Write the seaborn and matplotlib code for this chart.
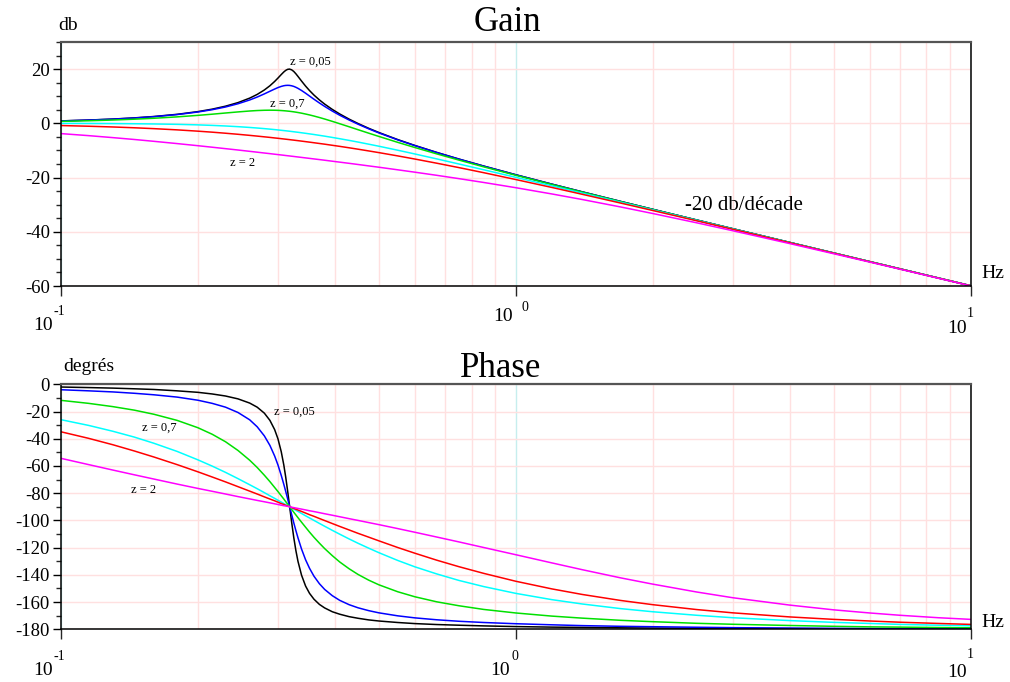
import numpy as np
import pandas as pd
import matplotlib
matplotlib.use("Agg")
import matplotlib.pyplot as plt
import seaborn as sns
from matplotlib.ticker import MultipleLocator, LogLocator, NullFormatter

# ---------------- data ----------------
freq_hz = [0.1, 0.115, 0.13, 0.145, 0.16, 0.18, 0.2, 0.215, 0.23, 0.245, 0.26,
           0.27, 0.28, 0.288, 0.295, 0.3, 0.305, 0.309, 0.312, 0.315, 0.318, 0.3215,
           0.325, 0.3285, 0.332, 0.338, 0.345, 0.352, 0.36, 0.37, 0.38, 0.395, 0.41,
           0.43, 0.45, 0.475, 0.5, 0.55, 0.6, 0.67, 0.75, 0.85, 1.0, 1.2,
           1.4, 1.7, 2.0, 2.5, 3.0, 4.0, 5.0, 6.0, 7.0, 8.5, 10.0]

z_labels = ["0,05", "0,1", "0,3", "0,7", "1", "2"]
z_colors = ["#000000", "#0000ff", "#00e000", "#00ffff", "#ff0000", "#ff00ff"]

gain_z005 = [0.90, 1.21, 1.57, 2.01, 2.51, 3.32, 4.32, 5.23, 6.32, 7.64, 9.30,
             10.66, 12.30, 13.86, 15.45, 16.70, 17.99, 18.95, 19.53, 19.91, 20.01, 19.74,
             19.13, 18.27, 17.30, 15.60, 13.74, 12.08, 10.42, 8.64, 7.10, 5.13, 3.46,
             1.56, -0.07, -1.84, -3.38, -5.99, -8.16, -10.72, -13.18, -15.76, -18.96, -22.42,
             -25.27, -28.80, -31.71, -35.66, -38.87, -43.91, -47.81, -50.99, -53.67, -57.05, -59.88]
gain_z01 = [0.88, 1.19, 1.54, 1.96, 2.45, 3.23, 4.18, 5.03, 6.03, 7.22, 8.62,
            9.69, 10.86, 11.83, 12.65, 13.19, 13.62, 13.87, 13.98, 14.02, 13.99, 13.85,
            13.62, 13.29, 12.90, 12.12, 11.11, 10.06, 8.89, 7.51, 6.24, 4.52, 3.00,
            1.23, -0.32, -2.03, -3.53, -6.09, -8.23, -10.77, -13.21, -15.78, -18.98, -22.43,
            -25.28, -28.80, -31.71, -35.66, -38.87, -43.91, -47.81, -50.99, -53.67, -57.05, -59.88]
gain_z03 = [0.72, 0.95, 1.22, 1.53, 1.87, 2.38, 2.94, 3.37, 3.81, 4.21, 4.55,
            4.72, 4.82, 4.85, 4.83, 4.79, 4.72, 4.65, 4.59, 4.52, 4.45, 4.35,
            4.24, 4.12, 3.99, 3.75, 3.43, 3.10, 2.69, 2.15, 1.59, 0.73, -0.14,
            -1.26, -2.35, -3.63, -4.83, -7.01, -8.92, -11.26, -13.56, -16.04, -19.15, -22.55,
            -25.36, -28.85, -31.75, -35.69, -38.89, -43.92, -47.82, -50.99, -53.68, -57.05, -59.88]
gain_z07 = [-0.03, -0.05, -0.09, -0.15, -0.23, -0.37, -0.57, -0.76, -0.98, -1.23, -1.52,
            -1.73, -1.95, -2.14, -2.31, -2.44, -2.57, -2.67, -2.75, -2.83, -2.91, -3.01,
            -3.11, -3.21, -3.30, -3.48, -3.68, -3.89, -4.12, -4.43, -4.73, -5.20, -5.67,
            -6.29, -6.91, -7.69, -8.44, -9.91, -11.30, -13.11, -15.00, -17.12, -19.91, -23.06,
            -25.73, -29.10, -31.93, -35.80, -38.97, -43.97, -47.84, -51.01, -53.69, -57.06, -59.89]
gain_z1 = [-0.82, -1.07, -1.34, -1.64, -1.96, -2.41, -2.89, -3.26, -3.65, -4.04, -4.44,
           -4.71, -4.98, -5.19, -5.39, -5.52, -5.66, -5.77, -5.85, -5.93, -6.01, -6.11,
           -6.20, -6.30, -6.39, -6.56, -6.75, -6.94, -7.16, -7.43, -7.69, -8.10, -8.49,
           -9.02, -9.54, -10.18, -10.80, -12.01, -13.17, -14.70, -16.33, -18.20, -20.73, -23.64,
           -26.17, -29.40, -32.14, -35.94, -39.07, -44.02, -47.88, -51.04, -53.71, -57.08, -59.90]
gain_z2 = [-3.79, -4.54, -5.27, -5.96, -6.63, -7.47, -8.25, -8.81, -9.34, -9.84, -10.33,
           -10.64, -10.95, -11.18, -11.39, -11.53, -11.67, -11.78, -11.87, -11.95, -12.03, -12.13,
           -12.22, -12.32, -12.41, -12.57, -12.75, -12.93, -13.13, -13.37, -13.61, -13.97, -14.31,
           -14.75, -15.18, -15.70, -16.19, -17.14, -18.02, -19.17, -20.40, -21.81, -23.74, -26.04,
           -28.10, -30.84, -33.25, -36.69, -39.61, -44.34, -48.09, -51.18, -53.81, -57.15, -59.95]

phase_z005 = [-2.0, -2.4, -2.8, -3.3, -3.8, -4.8, -5.9, -7.1, -8.6, -10.7, -13.8,
              -16.8, -21.2, -26.5, -33.3, -40.1, -49.5, -59.3, -68.2, -78.2, -88.9, -101.3,
              -112.6, -122.2, -130.1, -140.2, -148.2, -153.6, -157.9, -161.7, -164.3, -167.1, -168.9,
              -170.7, -171.9, -173.1, -173.9, -175.0, -175.8, -176.5, -177.0, -177.5, -178.0, -178.4,
              -178.6, -178.9, -179.1, -179.3, -179.4, -179.5, -179.6, -179.7, -179.7, -179.8, -179.8]
phase_z01 = [-4.0, -4.8, -5.6, -6.6, -7.7, -9.4, -11.7, -14.0, -16.8, -20.7, -26.1,
             -31.2, -37.9, -44.9, -52.7, -59.3, -66.9, -73.5, -78.7, -84.0, -89.4, -95.7,
             -101.8, -107.5, -112.8, -121.0, -128.9, -135.2, -141.0, -146.5, -150.7, -155.3, -158.7,
             -161.9, -164.2, -166.3, -167.9, -170.1, -171.6, -173.0, -174.1, -175.0, -175.9, -176.7,
             -177.3, -177.8, -178.1, -178.5, -178.8, -179.1, -179.3, -179.4, -179.5, -179.6, -179.6]
phase_z03 = [-11.8, -14.0, -16.4, -19.0, -22.0, -26.5, -31.9, -36.7, -42.2, -48.6, -55.8,
             -61.1, -66.8, -71.5, -75.8, -78.8, -81.9, -84.3, -86.2, -88.0, -89.8, -91.9,
             -94.0, -96.0, -98.0, -101.3, -105.0, -108.6, -112.4, -116.7, -120.7, -125.9, -130.5,
             -135.5, -139.7, -143.9, -147.3, -152.4, -156.1, -159.8, -162.7, -165.4, -168.0, -170.3,
             -171.8, -173.4, -174.4, -175.6, -176.3, -177.2, -177.8, -178.2, -178.4, -178.7, -178.9]
phase_z07 = [-26.0, -30.2, -34.5, -38.8, -43.3, -49.3, -55.5, -60.1, -64.7, -69.3, -73.8,
             -76.7, -79.6, -81.9, -83.8, -85.2, -86.5, -87.6, -88.4, -89.1, -89.9, -90.8,
             -91.7, -92.6, -93.4, -94.9, -96.6, -98.2, -100.0, -102.2, -104.3, -107.3, -110.1,
             -113.6, -116.8, -120.4, -123.7, -129.4, -134.1, -139.3, -144.1, -148.6, -153.6, -158.2,
             -161.4, -164.8, -167.1, -169.7, -171.5, -173.6, -174.9, -175.7, -176.4, -177.0, -177.4]
phase_z1 = [-34.9, -39.7, -44.4, -49.0, -53.4, -59.0, -64.3, -68.1, -71.7, -75.2, -78.5,
            -80.6, -82.7, -84.3, -85.6, -86.6, -87.6, -88.3, -88.9, -89.4, -89.9, -90.6,
            -91.2, -91.8, -92.4, -93.4, -94.6, -95.8, -97.0, -98.6, -100.1, -102.3, -104.4,
            -107.0, -109.5, -112.3, -115.0, -119.9, -124.1, -129.2, -134.0, -138.9, -144.7, -150.3,
            -154.4, -158.8, -161.9, -165.5, -167.9, -170.9, -172.7, -173.9, -174.8, -175.7, -176.4]
phase_z2 = [-54.4, -59.0, -63.0, -66.5, -69.6, -73.3, -76.5, -78.6, -80.6, -82.5, -84.2,
            -85.3, -86.3, -87.1, -87.8, -88.3, -88.8, -89.2, -89.4, -89.7, -90.0, -90.3,
            -90.6, -90.9, -91.2, -91.7, -92.3, -92.9, -93.5, -94.3, -95.1, -96.2, -97.3,
            -98.7, -100.0, -101.6, -103.1, -106.0, -108.7, -112.2, -115.8, -119.9, -125.2, -131.2,
            -136.2, -142.2, -146.8, -152.6, -156.8, -162.2, -165.7, -168.0, -169.7, -171.5, -172.7]

gains = [gain_z005, gain_z01, gain_z03, gain_z07, gain_z1, gain_z2]
phases = [phase_z005, phase_z01, phase_z03, phase_z07, phase_z1, phase_z2]

rows = []
for lab, g, p in zip(z_labels, gains, phases):
    for f, gv, pv in zip(freq_hz, g, p):
        rows.append({"f": f, "z": lab, "gain": gv, "phase": pv})
df = pd.DataFrame(rows)

# ---------------- style ----------------
sns.set_theme(style="ticks")
plt.rcParams["font.family"] = ["Liberation Serif", "DejaVu Serif"]
plt.rcParams["axes.unicode_minus"] = False

W, H = 1010, 682
fig = plt.figure(figsize=(W / 100, H / 100), dpi=100)
fig.patch.set_facecolor("white")


def rect(x0, y0, x1, y1):
    return [x0 / W, 1 - y1 / H, (x1 - x0) / W, (y1 - y0) / H]


def ftext(x, y, s, size, ha="center", va="baseline"):
    fig.text(x / W, 1 - y / H, s, fontsize=size, ha=ha, va=va, color="black")


ax1 = fig.add_axes(rect(61, 42, 970.5, 286))
ax2 = fig.add_axes(rect(61, 384.3, 970.5, 629.3))

palette = dict(zip(z_labels, z_colors))
pink = "#ffe0e0"
cyan_grid = "#c6eeee"

for ax, col in ((ax1, "gain"), (ax2, "phase")):
    sns.lineplot(data=df, x="f", y=col, hue="z", hue_order=z_labels,
                 palette=palette, estimator=None, legend=False, linewidth=1.1,
                 ax=ax)
    ax.set_xscale("log")
    ax.set_xlim(0.1, 10)
    ax.set_xlabel("")
    ax.set_ylabel("")
    ax.set_facecolor("white")
    ax.set_xticks([0.1, 1, 10])
    ax.set_xticklabels(["", "", ""])
    ax.xaxis.set_minor_locator(LogLocator(base=10, subs=np.arange(2, 10), numticks=20))
    ax.xaxis.set_minor_formatter(NullFormatter())
    ax.set_axisbelow(True)
    ax.grid(which="minor", axis="x", color=pink, linewidth=1.0)
    ax.grid(which="major", axis="x", color=cyan_grid, linewidth=1.0)
    ax.grid(which="major", axis="y", color=pink, linewidth=1.0)
    for s in ("left", "bottom", "right"):
        ax.spines[s].set_color("black")
        ax.spines[s].set_linewidth(1.1)
        ax.spines[s].set_visible(True)
    ax.spines["top"].set_visible(True)
    ax.spines["top"].set_color("#555555")
    ax.spines["top"].set_linewidth(1.6)
    ax.tick_params(axis="y", which="major", direction="out", length=6, width=1,
                   pad=2, labelsize=13.5, colors="black", left=True)
    ax.tick_params(axis="y", which="minor", direction="out", length=3.5, width=1,
                   left=True)
    ax.tick_params(axis="x", which="major", direction="out", length=7.5, width=1,
                   bottom=True)
    ax.tick_params(axis="x", which="minor", length=0)

# gain axis
ax1.set_ylim(-60, 30)
ax1.yaxis.set_major_locator(MultipleLocator(20))
ax1.yaxis.set_minor_locator(MultipleLocator(5))

# phase axis
ax2.set_ylim(-180, 0)
ax2.yaxis.set_major_locator(MultipleLocator(20))
ax2.yaxis.set_minor_locator(MultipleLocator(10))

# decade labels: "10" with a raised exponent, as in the reference
top_dec = [(53, 330, "-1", 53, 315), (513, 321, "0", 522, 311), (967, 333, "1", 967, 317)]
bot_dec = [(53, 675, "-1", 53, 660), (510, 675, "0", 512, 660), (967, 677, "1", 967, 658)]
for xr, yb, ex, xe, ye in top_dec + bot_dec:
    ftext(xr, yb, "10", 14, ha="right")
    ftext(xe, ye, ex, 10, ha="left")

# texts
ftext(507, 31, "Gain", 25)
ftext(501, 377, "Phase", 25)
ftext(68, 30, "db", 14)
ftext(88.5, 371, "degrés", 14)
ftext(992.5, 278, "Hz", 14)
ftext(992.5, 627, "Hz", 14)

ftext(310.5, 65, "z = 0,05", 9)
ftext(287, 107, "z = 0,7", 9)
ftext(243, 166, "z = 2", 9)
ftext(743.5, 210, "-20 db/décade", 15)

ftext(294.5, 415, "z = 0,05", 9)
ftext(159.7, 431, "z = 0,7", 9)
ftext(143.7, 493, "z = 2", 9)

fig.savefig("out.png", dpi=100, facecolor="white")
